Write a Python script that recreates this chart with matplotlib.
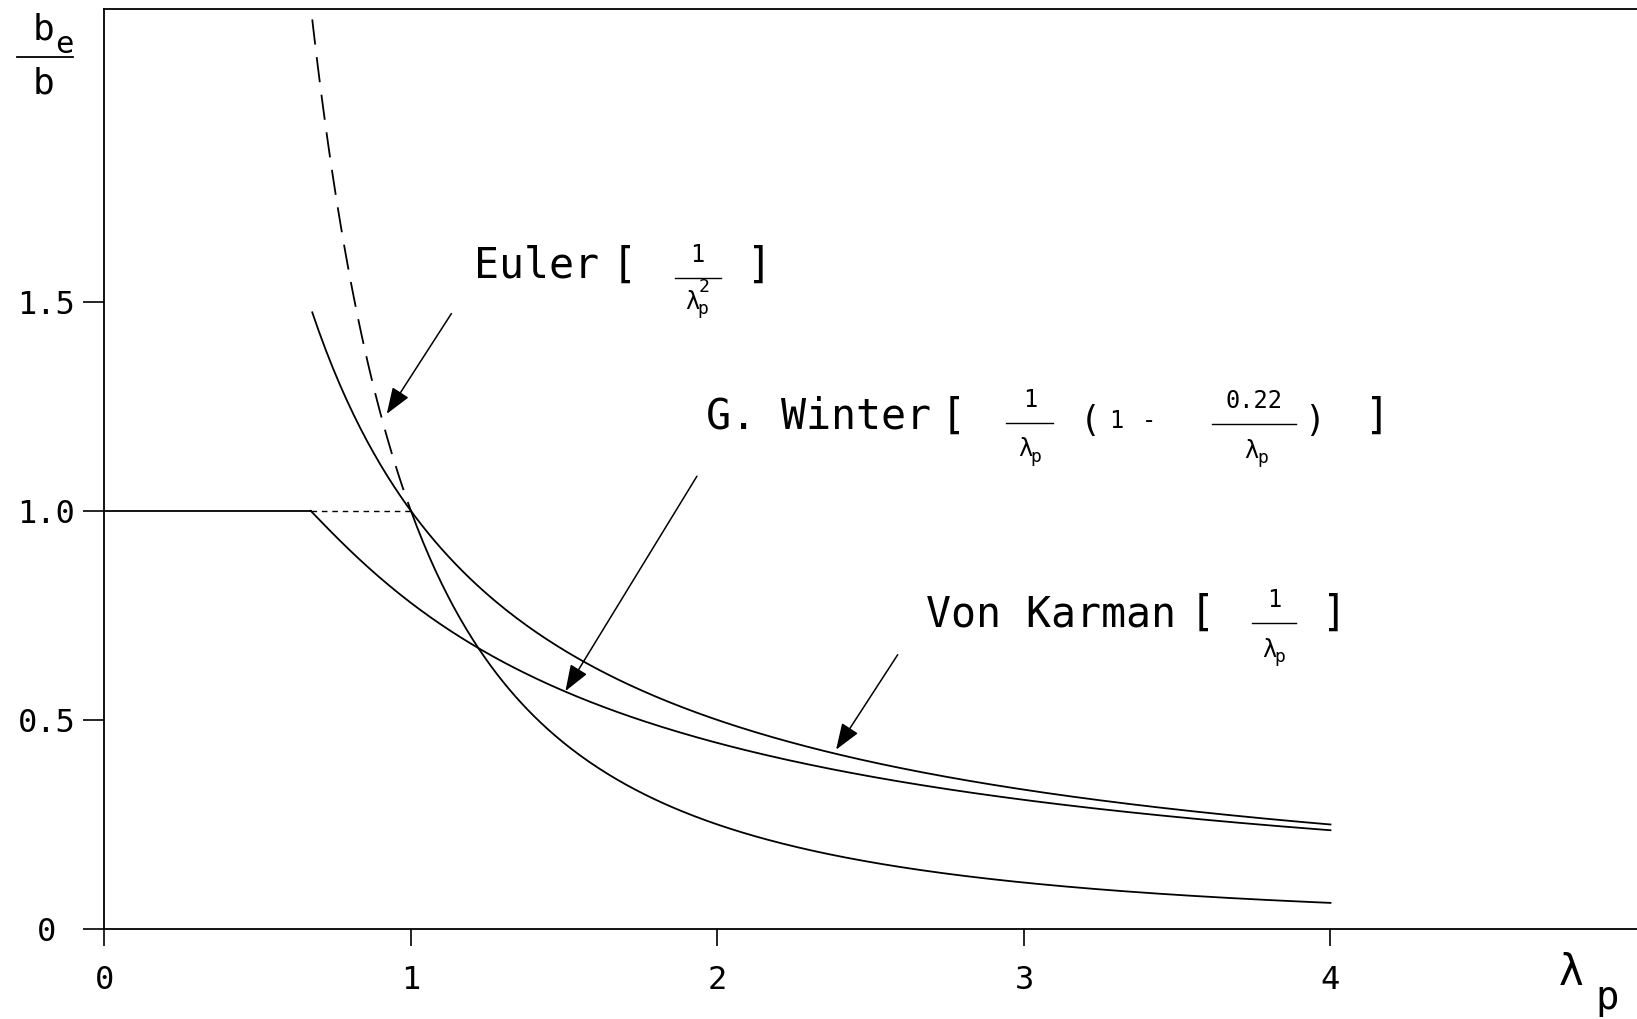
import numpy as np
import matplotlib
matplotlib.use("Agg")
import matplotlib.pyplot as plt

# effective width ratio b_e/b against plate slenderness lambda_p
winter_coef = 0.22
lam_end = 4.0
lam_euler_top = 0.678      # Euler curve leaves the frame here
lam_karman_start = 0.678
lam_winter_knee = 0.673    # Winter curve meets b_e/b = 1
xticks = [0, 1, 2, 3, 4]
xtick_labels = ["0", "1", "2", "3", "4"]
yticks = [0, 0.5, 1.0, 1.5]
ytick_labels = ["0 ", "0.5", "1.0", "1.5"]


def euler(lam):
    return 1.0 / lam ** 2


def karman(lam):
    return 1.0 / lam


def winter(lam):
    return (1.0 / lam) * (1.0 - winter_coef / lam)


MONO = "DejaVu Sans Mono"
plt.rcParams["font.family"] = MONO

fig = plt.figure(figsize=(16.37, 10.19), dpi=100)
ax = fig.add_axes([0.0638, 0.0883, 0.9362, 0.9027])
ax.set_xlim(0, 5.0)
ax.set_ylim(0, 2.2)

lw = 1.3
col = "black"

# Euler 1/lambda^2: dashed above b_e/b = 1, solid below
l1 = np.linspace(lam_euler_top, 1.0, 80)
ax.plot(l1, euler(l1), color=col, lw=lw, linestyle=(0, (14, 7)))
l2 = np.linspace(1.0, lam_end, 300)
ax.plot(l2, euler(l2), color=col, lw=lw)

# von Karman 1/lambda
l3 = np.linspace(lam_karman_start, lam_end, 300)
ax.plot(l3, karman(l3), color=col, lw=lw)

# Winter: flat at 1 up to the knee, then the reduced curve
ax.plot([0, lam_winter_knee], [1.0, 1.0], color=col, lw=lw)
l4 = np.linspace(lam_winter_knee, lam_end, 300)
ax.plot(l4, winter(l4), color=col, lw=lw)

# short dashes on b_e/b = 1 between the knee and lambda_p = 1
ax.plot([lam_winter_knee, 1.0], [1.0, 1.0], color=col, lw=1.0,
        linestyle=(0, (4, 3.5)))

# axes frame and ticks
ax.spines["right"].set_visible(False)
for s in ["left", "bottom", "top"]:
    ax.spines[s].set_linewidth(1.3)
ax.set_xticks(xticks)
ax.set_xticklabels(xtick_labels)
ax.set_yticks(yticks)
ax.set_yticklabels(ytick_labels)
ax.tick_params(axis="x", direction="out", length=12, width=1.2,
               pad=14, labelsize=23)
ax.tick_params(axis="y", direction="out", length=15, width=1.2,
               pad=6, labelsize=23)

# curve labels
big = 30
small = 17
tiny = 13


def frac(x, y, num, half):
    ax.text(x, y + 0.055, num, fontsize=small, ha="center", va="center")
    ax.plot([x - half, x + half], [y, y], color=col, lw=1.0)


def lam_p(x, y, sup=None):
    ax.text(x + 0.005, y, "λ", fontsize=small, ha="right", va="center")
    ax.text(x, y - 0.018, "p", fontsize=tiny, ha="left", va="center")
    if sup:
        ax.text(x + 0.005, y + 0.035, sup, fontsize=tiny, ha="left", va="center")


# Euler [ 1 / lambda_p^2 ]
ax.text(1.205, 1.586, "Euler", fontsize=big, ha="left", va="center")
ax.text(1.694, 1.586, "[", fontsize=big, ha="center", va="center")
frac(1.935, 1.557, "1", 0.075)
lam_p(1.935, 1.500, "2")
ax.text(2.138, 1.586, "]", fontsize=big, ha="center", va="center")

# G. Winter [ 1/lambda_p (1 - 0.22/lambda_p) ]
ax.text(1.964, 1.225, "G. Winter", fontsize=big, ha="left", va="center")
ax.text(2.768, 1.225, "[", fontsize=big, ha="center", va="center")
frac(3.019, 1.21, "1", 0.077)
lam_p(3.022, 1.147)
ax.text(3.215, 1.215, "(", fontsize=25, ha="center", va="center")
ax.text(3.30, 1.215, "1", fontsize=small, ha="center", va="center")
ax.text(3.409, 1.215, "-", fontsize=small, ha="center", va="center")
frac(3.75, 1.207, "0.22", 0.137)
lam_p(3.76, 1.144)
ax.text(3.948, 1.215, ")", fontsize=25, ha="center", va="center")
ax.text(4.153, 1.225, "]", fontsize=big, ha="center", va="center")

# Von Karman [ 1/lambda_p ]
ax.text(2.68, 0.753, "Von Karman", fontsize=big, ha="left", va="center")
ax.text(3.58, 0.753, "[", fontsize=big, ha="center", va="center")
frac(3.815, 0.731, "1", 0.072)
lam_p(3.818, 0.668)
ax.text(4.013, 0.753, "]", fontsize=big, ha="center", va="center")

# pointer arrows
arrow = dict(arrowstyle="-|>,head_length=0.9,head_width=0.33",
             color=col, lw=1.1, mutation_scale=18, shrinkA=0, shrinkB=0)
ax.annotate("", xy=(0.921, 1.232), xytext=(1.132, 1.472), arrowprops=arrow)
ax.annotate("", xy=(1.504, 0.569), xytext=(1.933, 1.083), arrowprops=arrow)
ax.annotate("", xy=(2.387, 0.429), xytext=(2.588, 0.656), arrowprops=arrow)

# axis titles: b_e / b and lambda_p
W, H = 1637.0, 1019.0
fig.text(44 / W, 1 - 30 / H, "b", fontsize=26, ha="center", va="center")
fig.text(64 / W, 1 - 44 / H, "e", fontsize=22, ha="center", va="center")
fig.add_artist(plt.Line2D([17 / W, 73 / W], [1 - 57 / H, 1 - 57 / H],
                          color=col, lw=1.3))
fig.text(44 / W, 1 - 83 / H, "b", fontsize=26, ha="center", va="center")
fig.text(1571 / W, 1 - 973 / H, "λ", fontsize=30, ha="center", va="center",
         family="DejaVu Sans")
fig.text(1607 / W, 1 - 998 / H, "p", fontsize=28, ha="center", va="center")

fig.savefig("out.png", dpi=100)
